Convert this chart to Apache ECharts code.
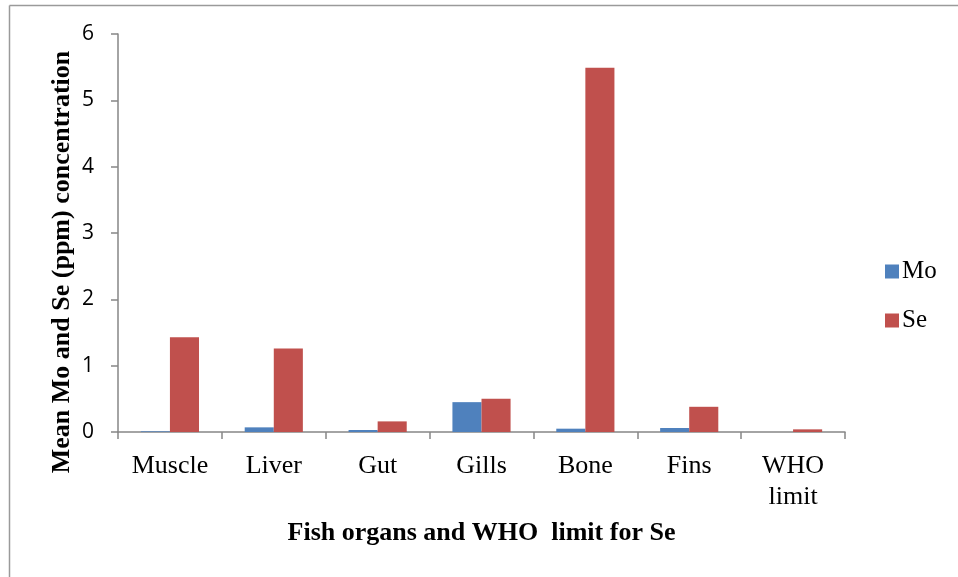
<!DOCTYPE html>
<html>
<head>
<meta charset="utf-8">
<script src="https://cdn.jsdelivr.net/npm/echarts@6/dist/echarts.min.js"></script>
<style>
  html, body { margin: 0; padding: 0; background: #fff; }
  #chart { width: 958px; height: 577px; }
</style>
</head>
<body>
<div id="chart"></div>
<script>
// Organs sampled plus the WHO reference value for selenium
const categories = ['Muscle', 'Liver', 'Gut', 'Gills', 'Bone', 'Fins', 'WHO\nlimit'];
// Mean concentrations (ppm)
const moValues = [0.01, 0.07, 0.03, 0.45, 0.05, 0.06, 0];
const seValues = [1.43, 1.26, 0.16, 0.50, 5.49, 0.38, 0.04];
const yTicks = { min: 0, max: 6, interval: 1 };
const yTitle = 'Mean Mo and Se (ppm) concentration';
const xTitle = 'Fish organs and WHO  limit for Se';

const axisGray = '#868686';
const serif = '"Liberation Serif", "Times New Roman", serif';

const chart = echarts.init(document.getElementById('chart'), null, { renderer: 'canvas' });
chart.setOption({
  backgroundColor: '#fff',
  animation: false,
  graphic: [
    { type: 'line', shape: { x1: 9.5, y1: 5.5, x2: 958, y2: 5.5 }, style: { stroke: '#9a9a9a', lineWidth: 1.5 } },
    { type: 'line', shape: { x1: 9.5, y1: 5.5, x2: 9.5, y2: 577 }, style: { stroke: '#9a9a9a', lineWidth: 1.5 } },
    {
      type: 'text',
      x: 62, y: 262,
      rotation: Math.PI / 2,
      style: {
        text: yTitle,
        fontFamily: serif, fontSize: 26, fontWeight: 'bold', fill: '#000',
        align: 'center', verticalAlign: 'middle'
      }
    }
  ],
  grid: { left: 118, right: 113, top: 34, bottom: 145, containLabel: false },
  legend: {
    orient: 'vertical',
    left: 880,
    top: 254,
    itemWidth: 14,
    itemHeight: 14,
    itemGap: 24,
    icon: 'rect',
    textStyle: { fontFamily: serif, fontSize: 25, color: '#000', padding: [0, 0, 0, -2] },
    data: ['Mo', 'Se']
  },
  xAxis: {
    type: 'category',
    data: categories,
    axisLine: { lineStyle: { color: axisGray, width: 1.5 } },
    axisTick: { show: true, length: 7, lineStyle: { color: axisGray, width: 1.5 }, alignWithLabel: false },
    axisLabel: { fontFamily: serif, fontSize: 26, color: '#000', margin: 19, lineHeight: 31, interval: 0 },
    name: xTitle,
    nameLocation: 'middle',
    nameGap: 88,
    nameTextStyle: { fontFamily: serif, fontSize: 26, fontWeight: 'bold', color: '#000' }
  },
  yAxis: {
    type: 'value',
    min: yTicks.min,
    max: yTicks.max,
    interval: yTicks.interval,
    splitLine: { show: false },
    axisLine: { show: true, lineStyle: { color: axisGray, width: 1.5 } },
    axisTick: { show: true, length: 7, lineStyle: { color: axisGray, width: 1.5 } },
    axisLabel: { fontFamily: '"Open Sans", sans-serif', fontSize: 21, color: '#000', margin: 24 }
  },
  series: [
    {
      name: 'Mo', type: 'bar', data: moValues,
      itemStyle: { color: '#4F81BD' },
      barGap: '0%', barCategoryGap: '44%'
    },
    {
      name: 'Se', type: 'bar', data: seValues,
      itemStyle: { color: '#C0504D' },
      barGap: '0%', barCategoryGap: '44%'
    }
  ]
});
</script>
</body>
</html>
